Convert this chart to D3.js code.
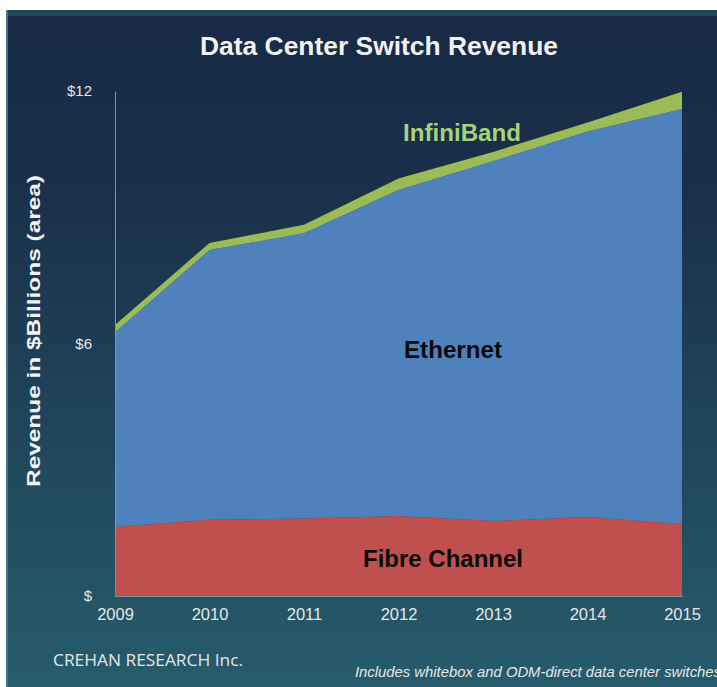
<!DOCTYPE html>
<html><head><meta charset="utf-8">
<script src="https://cdn.jsdelivr.net/npm/d3@7"></script>
<style>html,body{margin:0;padding:0;background:#fff;}svg{display:block;}</style>
</head><body>
<svg id="chart" width="717" height="687"></svg>
<script>
const years = [2009, 2010, 2011, 2012, 2013, 2014, 2015];
const fibreChannel = [1.64, 1.81, 1.84, 1.90, 1.78, 1.88, 1.71];
const ethernet = [4.63, 6.41, 6.78, 7.75, 8.55, 9.16, 9.86];
const infiniBand = [0.17, 0.17, 0.20, 0.27, 0.22, 0.21, 0.41];
const yTicks = [0, 6, 12];
const yTickLabels = ["$", "$6", "$12"];

const svg = d3.select("#chart");
const W = 717, H = 687;
const FONT = "Liberation Sans, Arial, sans-serif";
const defs = svg.append("defs");
const grad = defs.append("linearGradient").attr("id","bg").attr("x1",0).attr("y1",0).attr("x2",0).attr("y2",1);
grad.append("stop").attr("offset","0%").attr("stop-color","#182a45");
grad.append("stop").attr("offset","25%").attr("stop-color","#1a2f4a");
grad.append("stop").attr("offset","100%").attr("stop-color","#265c6c");

svg.append("rect").attr("x",0).attr("y",0).attr("width",W).attr("height",H).attr("fill","#fff");
svg.append("rect").attr("x",6).attr("y",10).attr("width",W-6).attr("height",H-10).attr("fill","url(#bg)");
svg.append("rect").attr("x",6).attr("y",10).attr("width",W-6).attr("height",6).attr("fill","#1f4a55");
svg.append("rect").attr("x",6).attr("y",10).attr("width",2).attr("height",H-10).attr("fill","#3f7688");

const x = d3.scaleLinear().domain([2009, 2015]).range([115, 682]);
const y = d3.scaleLinear().domain([0, 12]).range([596, 91]);

const rows = years.map((yr,i)=>({year:yr, fc:fibreChannel[i], eth:ethernet[i], ib:infiniBand[i]}));
const stack = d3.stack().keys(["fc","eth","ib"]);
const series = stack(rows);
const colors = {fc:"#c0504d", eth:"#4f81bd", ib:"#9bbb59"};
const area = d3.area().x(d=>x(d.data.year)).y0(d=>y(d[0])).y1(d=>y(d[1]));

svg.append("g").selectAll("path").data(series).join("path")
  .attr("d", area).attr("fill", d=>colors[d.key]);

// axes
const yAxis = d3.axisLeft(y).tickValues(yTicks).tickSize(0).tickPadding(23).tickFormat((d,i)=>yTickLabels[i]);
const gy = svg.append("g").attr("transform","translate(115,0)").call(yAxis);
gy.select(".domain").attr("stroke","#8a8f96").attr("stroke-width",1);
gy.selectAll("text").attr("fill","#e6e6e6").attr("font-family",FONT).attr("font-size",15);

const xAxis = d3.axisBottom(x).tickValues(years).tickFormat(d3.format("d")).tickSize(0).tickPadding(12);
const gx = svg.append("g").attr("transform","translate(0,596)").call(xAxis);
gx.select(".domain").attr("stroke","#8a8f96").attr("stroke-width",1);
gx.selectAll("text").attr("fill","#e6e6e6").attr("font-family",FONT).attr("font-size",16.5);

// title
svg.append("text").attr("x",379).attr("y",55).attr("text-anchor","middle")
  .attr("font-family",FONT).attr("font-weight","bold").attr("font-size",25)
  .attr("textLength",358).attr("lengthAdjust","spacingAndGlyphs")
  .attr("fill","#f2f2f2").text("Data Center Switch Revenue");

// y label
svg.append("text").attr("transform","translate(40,331) rotate(-90)").attr("text-anchor","middle")
  .attr("font-family",FONT).attr("font-weight","bold").attr("font-size",19)
  .attr("textLength",312).attr("lengthAdjust","spacingAndGlyphs")
  .attr("fill","#f2f2f2").text("Revenue in $Billions (area)");

// series labels
const lbl = (t, cx, cy, col, len) => svg.append("text").attr("x",cx).attr("y",cy).attr("text-anchor","middle")
  .attr("dominant-baseline","central").attr("font-family",FONT)
  .attr("font-weight","bold").attr("font-size",23.5).attr("fill",col)
  .attr("textLength",len).attr("lengthAdjust","spacingAndGlyphs").text(t);
lbl("InfiniBand", 462, 133, "#a3d47c", 118);
lbl("Ethernet", 453, 350, "#0a0a0a", 98);
lbl("Fibre Channel", 443, 559, "#0a0a0a", 160);

// footer
svg.append("text").attr("x",53).attr("y",666).attr("font-family","Open Sans, Liberation Sans, sans-serif")
  .attr("font-size",16).attr("fill","#e6e6e6").attr("textLength",190).attr("lengthAdjust","spacingAndGlyphs").text("CREHAN RESEARCH Inc.");
svg.append("text").attr("x",355).attr("y",677).attr("font-family",FONT)
  .attr("font-style","italic").attr("font-size",14).attr("fill","#e6e6e6")
  .attr("textLength",366).attr("lengthAdjust","spacingAndGlyphs").text("Includes whitebox and ODM-direct data center switches");
</script>
</body></html>
